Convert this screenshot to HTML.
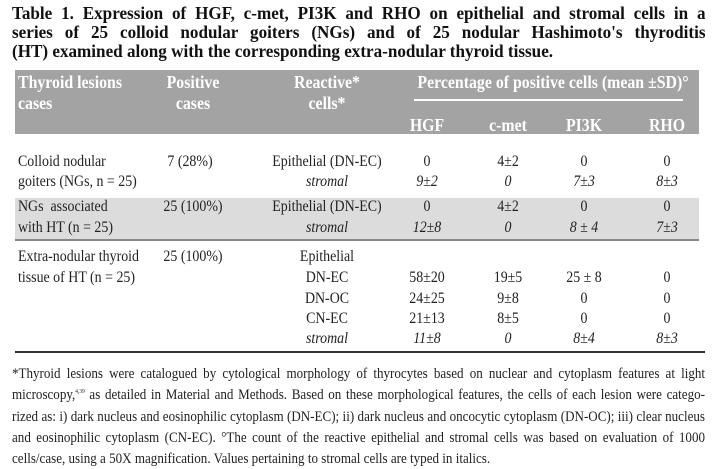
<!DOCTYPE html>
<html><head><meta charset="utf-8">
<style>
body{margin:0;width:717px;height:469px;background:#fff;position:relative;overflow:hidden;font-family:"Liberation Serif",serif;color:#222}
.a{position:absolute;white-space:nowrap}
.l{transform-origin:left center}
.c{width:200px;text-align:center;transform-origin:center center}
.h{color:#fff;font-weight:bold;font-size:18px;line-height:20px;transform:scaleX(.88)}
.b{font-size:16px;line-height:18px;transform:scaleX(.87)}
.i{font-style:italic}
.j{position:absolute;white-space:nowrap;text-align:justify;text-align-last:justify;transform-origin:left center}
.ti{font-weight:bold;font-size:18px;line-height:20px;width:730px;transform:scaleX(.95);left:12px;color:#111}
.fn{font-size:14.5px;line-height:18px;width:770px;transform:scaleX(.9);left:12px}
sup{font-size:6px;line-height:0;vertical-align:6px}
</style></head><body>
<div class="j ti" style="top:3px">Table 1. Expression of HGF, c-met, PI3K and RHO on epithelial and stromal cells in a</div>
<div class="j ti" style="top:22px">series of 25 colloid nodular goiters (NGs) and of 25 nodular Hashimoto's thyroditis</div>
<div class="a" style="top:41px;left:12px;font-weight:bold;font-size:18px;line-height:20px;transform:scaleX(.95);transform-origin:left center;color:#111">(HT) examined along with the corresponding extra-nodular thyroid tissue.</div>

<div class="a" style="left:15px;top:70px;width:684px;height:64px;background:#a3a3a3"></div>
<div class="a" style="left:414px;top:99px;width:269px;height:2px;background:#fff"></div>
<div class="a l h" style="left:18px;top:72px">Thyroid lesions</div>
<div class="a l h" style="left:18px;top:93px">cases</div>
<div class="a c h" style="left:93px;top:72px">Positive</div>
<div class="a c h" style="left:93px;top:93px">cases</div>
<div class="a c h" style="left:227px;top:72px">Reactive*</div>
<div class="a c h" style="left:227px;top:93px">cells*</div>
<div class="a c h" style="left:353px;top:72px;width:400px">Percentage of positive cells (mean ±SD)°</div>
<div class="a c h" style="left:327px;top:115px">HGF</div>
<div class="a c h" style="left:408px;top:115px">c-met</div>
<div class="a c h" style="left:484px;top:115px">PI3K</div>
<div class="a c h" style="left:567px;top:115px">RHO</div>

<!-- row 1 -->
<div class="a l b" style="left:18px;top:153px">Colloid nodular</div>
<div class="a l b" style="left:18px;top:173px">goiters (NGs, n = 25)</div>
<div class="a c b" style="left:90px;top:153px">7 (28%)</div>
<div class="a c b" style="left:227px;top:153px">Epithelial (DN-EC)</div>
<div class="a c b i" style="left:227px;top:173px">stromal</div>
<div class="a c b" style="left:327px;top:153px">0</div>
<div class="a c b" style="left:408px;top:153px">4±2</div>
<div class="a c b" style="left:484px;top:153px">0</div>
<div class="a c b" style="left:567px;top:153px">0</div>
<div class="a c b i" style="left:327px;top:173px">9±2</div>
<div class="a c b i" style="left:408px;top:173px">0</div>
<div class="a c b i" style="left:484px;top:173px">7±3</div>
<div class="a c b i" style="left:567px;top:173px">8±3</div>

<!-- row 2 -->
<div class="a" style="left:15px;top:198px;width:684px;height:41px;background:#dcdcdc"></div>
<div class="a" style="left:15px;top:239px;width:684px;height:2px;background:#888"></div>
<div class="a l b" style="left:18px;top:198px">NGs&nbsp; associated</div>
<div class="a l b" style="left:18px;top:219px">with HT (n = 25)</div>
<div class="a c b" style="left:93px;top:198px">25 (100%)</div>
<div class="a c b" style="left:227px;top:198px">Epithelial (DN-EC)</div>
<div class="a c b i" style="left:227px;top:219px">stromal</div>
<div class="a c b" style="left:327px;top:198px">0</div>
<div class="a c b" style="left:408px;top:198px">4±2</div>
<div class="a c b" style="left:484px;top:198px">0</div>
<div class="a c b" style="left:567px;top:198px">0</div>
<div class="a c b i" style="left:327px;top:219px">12±8</div>
<div class="a c b i" style="left:408px;top:219px">0</div>
<div class="a c b i" style="left:484px;top:219px">8 ± 4</div>
<div class="a c b i" style="left:567px;top:219px">7±3</div>

<!-- row 3 -->
<div class="a l b" style="left:18px;top:248px">Extra-nodular thyroid</div>
<div class="a l b" style="left:18px;top:269px">tissue of HT (n = 25)</div>
<div class="a c b" style="left:93px;top:248px">25 (100%)</div>
<div class="a c b" style="left:227px;top:248px">Epithelial</div>
<div class="a c b" style="left:227px;top:269px">DN-EC</div>
<div class="a c b" style="left:227px;top:290px">DN-OC</div>
<div class="a c b" style="left:227px;top:310px">CN-EC</div>
<div class="a c b i" style="left:227px;top:330px">stromal</div>
<div class="a c b" style="left:327px;top:269px">58±20</div>
<div class="a c b" style="left:408px;top:269px">19±5</div>
<div class="a c b" style="left:484px;top:269px">25 ± 8</div>
<div class="a c b" style="left:567px;top:269px">0</div>
<div class="a c b" style="left:327px;top:290px">24±25</div>
<div class="a c b" style="left:408px;top:290px">9±8</div>
<div class="a c b" style="left:484px;top:290px">0</div>
<div class="a c b" style="left:567px;top:290px">0</div>
<div class="a c b" style="left:327px;top:310px">21±13</div>
<div class="a c b" style="left:408px;top:310px">8±5</div>
<div class="a c b" style="left:484px;top:310px">0</div>
<div class="a c b" style="left:567px;top:310px">0</div>
<div class="a c b i" style="left:327px;top:330px">11±8</div>
<div class="a c b i" style="left:408px;top:330px">0</div>
<div class="a c b i" style="left:484px;top:330px">8±4</div>
<div class="a c b i" style="left:567px;top:330px">8±3</div>
<div class="a" style="left:15px;top:351px;width:690px;height:2px;background:#333"></div>

<!-- footnote -->
<div class="j fn" style="top:365px">*Thyroid lesions were catalogued by cytological morphology of thyrocytes based on nuclear and cytoplasm features at light</div>
<div class="j fn" style="top:386px">microscopy,<sup>4,39</sup> as detailed in Material and Methods. Based on these morphological features, the cells of each lesion were catego-</div>
<div class="j fn" style="top:408px">rized as: i) dark nucleus and eosinophilic cytoplasm (DN-EC); ii) dark nucleus and oncocytic cytoplasm (DN-OC); iii) clear nucleus</div>
<div class="j fn" style="top:429px">and eosinophilic cytoplasm (CN-EC). °The count of the reactive epithelial and stromal cells was based on evaluation of 1000</div>
<div class="a fn l" style="top:450px;left:12px;width:auto">cells/case, using a 50X magnification. Values pertaining to stromal cells are typed in italics.</div>
</body></html>
